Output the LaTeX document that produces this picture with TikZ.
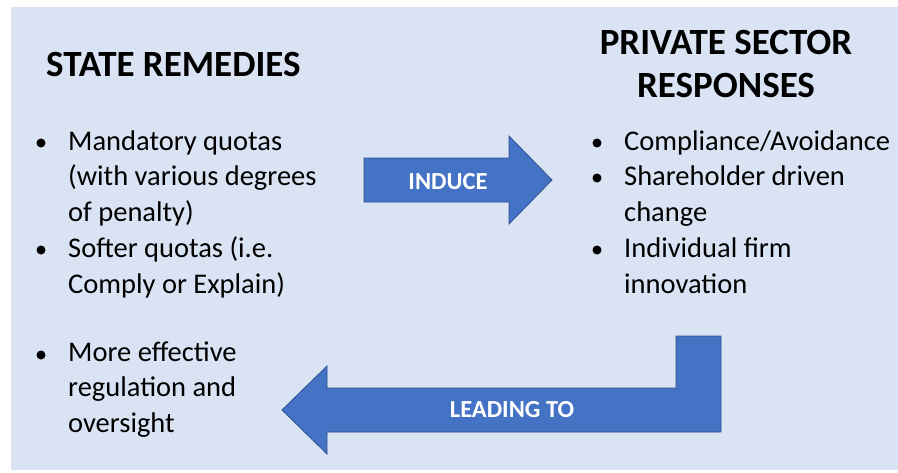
\documentclass[tikz,border=0pt]{standalone}
\usepackage{fontspec}
\setmainfont{Carlito}
\definecolor{panelblue}{HTML}{DAE3F3}
\definecolor{arrowblue}{HTML}{4472C4}
\definecolor{arrowedge}{HTML}{2F528F}

\begin{document}
\begin{tikzpicture}[x=1pt,y=-1pt,
    heading/.style={font=\fontsize{37}{43}\selectfont\bfseries, inner sep=0pt},
    itemtext/.style={font=\fontsize{28.5}{35.5}\selectfont, align=left, anchor=base west, inner sep=0pt},
    bigarrow/.style={fill=arrowblue, draw=arrowedge, line width=0.8pt},
    arrowlabel/.style={font=\fontsize{24.5}{28}\selectfont\bfseries, text=white, inner sep=0pt}]
    \useasboundingbox (0,0) rectangle (898,472);
    \fill[panelblue] (11,7) rectangle (898,470);

    % headings (base = last line)
    \node[heading, anchor=base west] (state) at (46,76) {STATE REMEDIES};
    \node[heading, align=center, anchor=base] (private) at (726,97) {PRIVATE SECTOR\\RESPONSES};

    % state remedies
    \node[itemtext] (mandatory) at (68,221) {Mandatory quotas\\(with various degrees\\of penalty)};
    \node[itemtext] (softer) at (68,293) {Softer quotas (i.e.\\Comply or Explain)};
    \node[itemtext] (oversight) at (68,432) {More effective\\regulation and\\oversight};
    \foreach \y in {143,250,355}
        \fill (41,\y) circle (4.5);

    % private sector responses
    \node[itemtext] (compliance) at (624,150) {Compliance/Avoidance};
    \node[itemtext] (shareholder) at (624,221) {Shareholder driven\\change};
    \node[itemtext] (innovation) at (624,293) {Individual firm\\innovation};
    \foreach \y in {143,178,250}
        \fill (597,\y) circle (4.5);

    % arrows
    \draw[bigarrow] (364,158) -- (509,158) -- (509,136) -- (552,180) -- (509,224)
        -- (509,202) -- (364,202) -- cycle;
    \node[arrowlabel] (induce) at (448,182) {INDUCE};
    \draw[bigarrow] (721,336) -- (721,432) -- (327,432) -- (327,454) -- (282,410)
        -- (327,366) -- (327,388) -- (676,388) -- (676,336) -- cycle;
    \node[arrowlabel] (leading) at (512,410) {LEADING TO};
\end{tikzpicture}
\end{document}
